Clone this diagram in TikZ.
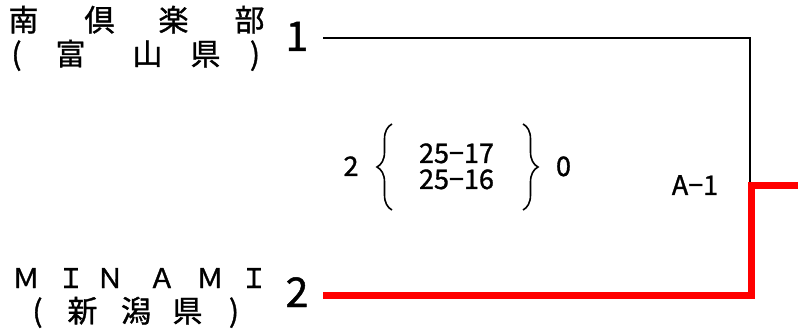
\documentclass[tikz,border=0pt]{standalone}
\usepackage{fontspec}
\setmainfont{Noto Sans CJK JP}[FakeBold=1.2]
\usetikzlibrary{decorations.pathreplacing}
\begin{document}
\begin{tikzpicture}[x=1pt,y=-1pt,
  lbl/.style={inner sep=0pt,anchor=base,font=\fontsize{30}{30}\selectfont},
  latn/.style={inner sep=0pt,anchor=base,font=\fontsize{27}{27}\selectfont},
  seed/.style={inner sep=0pt,anchor=base,font=\fontsize{41}{41}\selectfont},
  score/.style={inner sep=0pt,anchor=base,font=\fontsize{27}{27}\selectfont},
  loser/.style={line width=2pt,black,line join=miter},
  winner/.style={line width=7pt,red,line join=miter},
  bracestyle/.style={line width=1.6pt,decorate,decoration={brace,amplitude=15pt}}]
\useasboundingbox (0,0) rectangle (798,331);
% team 1
\node[lbl] (t1a) at (23.5,31) {南};
\node[lbl] (t1b) at (99.5,31) {倶};
\node[lbl] (t1c) at (173.5,31) {楽};
\node[lbl] (t1d) at (249.5,31) {部};
\node[lbl] (t1e) at (16.5,65) {(};
\node[lbl] (t1f) at (70.5,65) {富};
\node[lbl] (t1g) at (147.5,65) {山};
\node[lbl] (t1h) at (205.5,65) {県};
\node[lbl] (t1i) at (255,65) {)};
\node[seed] (s1) at (297,51) {1};
% team 2
\node[latn] (t2a) at (26,288) {Ｍ};
\node[latn] (t2b) at (71,288) {Ｉ};
\node[latn] (t2c) at (110,288) {Ｎ};
\node[latn] (t2d) at (162,288) {Ａ};
\node[latn] (t2e) at (210,288) {Ｍ};
\node[latn] (t2f) at (254,288) {Ｉ};
\node[lbl] (t2g) at (37.5,322) {(};
\node[lbl] (t2h) at (82.5,322) {新};
\node[lbl] (t2i) at (136,322) {潟};
\node[lbl] (t2j) at (187.5,322) {県};
\node[lbl] (t2k) at (234,322) {)};
\node[seed] (s2) at (297,307) {2};
% score
\node[score] (w) at (351,176) {2};
\node[score] (l) at (563.5,176) {0};
\node[score] (g1) at (456.5,163) {25−17};
\node[score] (g2) at (456.5,189) {25−16};
\node[score] (m) at (695,195) {A−1};
\coordinate (lb1) at (392,210);
\coordinate (lb2) at (392,124);
\coordinate (rb1) at (523,124);
\coordinate (rb2) at (523,210);
\draw[bracestyle] (lb1) -- (lb2);
\draw[bracestyle] (rb1) -- (rb2);
% bracket lines
\coordinate (a0) at (323,38);
\coordinate (a1) at (750,38);
\coordinate (a2) at (750,183);
\coordinate (b0) at (323,295.5);
\coordinate (b1) at (751,295.5);
\coordinate (b2) at (751,185.5);
\coordinate (b3) at (798,185.5);
\draw[loser] (a0) -- (a1) -- (a2);
\draw[winner] (b0) -- (b1) -- (b2) -- (b3);
\end{tikzpicture}
\end{document}
